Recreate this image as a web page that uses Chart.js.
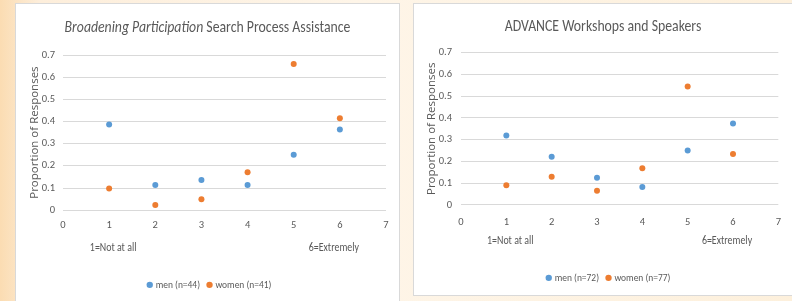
<!DOCTYPE html>
<html>
<head>
<meta charset="utf-8">
<script src="https://cdn.jsdelivr.net/npm/chart.js@4.4.1/dist/chart.umd.min.js"></script>
<style>
  html, body { margin: 0; padding: 0; }
  body {
    width: 792px; height: 301px; overflow: hidden; position: relative;
    background: linear-gradient(90deg, #fbdcb2 0%, #fdeedb 5%, #fef5e8 45%, #fdf0dc 100%);
  }
  .panel { position: absolute; background: #fff; border: 1px solid #d9d9d9; box-sizing: border-box; }
  #p1 { left: 15px; top: 3px; width: 385px; height: 300px; }
  #p2 { left: 413px; top: 3px; width: 382px; height: 293px; }
  canvas { position: absolute; display: block; }
  #c1 { left: 16px; top: 3px; }
  #c2 { left: 414px; top: 4px; }
</style>
</head>
<body>
<div class="panel" id="p1"></div>
<div class="panel" id="p2"></div>
<canvas id="c1" width="383" height="298"></canvas>
<canvas id="c2" width="378" height="291"></canvas>
<script>
// values
const xValues = [1, 2, 3, 4, 5, 6];
const bpMen = [0.386, 0.114, 0.136, 0.114, 0.25, 0.364];
const bpWomen = [0.098, 0.024, 0.049, 0.171, 0.659, 0.415];
const advMen = [0.319, 0.222, 0.125, 0.083, 0.25, 0.375];
const advWomen = [0.091, 0.13, 0.065, 0.169, 0.545, 0.234];
const endLabels = ['1=Not at all', '6=Extremely'];

const BLUE = '#5b9bd5';
const ORANGE = '#ed7d31';
const GREY = '#595959';
const NARROW = "Carlito, 'Liberation Sans Narrow', Lato, sans-serif";
const SQUEEZE = 0.86; // the source text is horizontally condensed

function squeezedText(ctx, text, x, y) {
  ctx.save();
  ctx.translate(x, y);
  ctx.scale(SQUEEZE, 1);
  ctx.fillText(text, 0, 0);
  ctx.restore();
}

// draws the mixed italic title, condensed legend text and the two scale-end notes
const extras = {
  id: 'extras',
  afterDraw(chart, args, opts) {
    const ctx = chart.ctx;
    const tb = chart.titleBlock;
    const tOpts = chart.options.plugins.title;
    const cy = tb.top + tOpts.padding.top + tOpts.font.size * 0.6;
    ctx.save();
    ctx.fillStyle = GREY;
    ctx.textBaseline = 'middle';
    ctx.textAlign = 'left';
    const fonts = opts.parts.map(p => (p.italic ? 'italic ' : '') + tOpts.font.size + 'px ' + NARROW);
    let total = 0;
    const widths = opts.parts.map((p, i) => {
      ctx.font = fonts[i];
      const w = ctx.measureText(p.text).width * SQUEEZE;
      total += w;
      return w;
    });
    let x = chart.width / 2 - total / 2;
    opts.parts.forEach((p, i) => { ctx.font = fonts[i]; squeezedText(ctx, p.text, x, cy); x += widths[i]; });

    // legend text, drawn over the (transparent) library text at its hit boxes
    const lg = chart.legend;
    const lo = lg.options.labels;
    ctx.font = '11px ' + NARROW;
    lg.legendItems.forEach((item, i) => {
      const hb = lg.legendHitBoxes[i];
      squeezedText(ctx, item.text, hb.left + lo.boxWidth + lo.font.size / 2 - 1, hb.top + hb.height / 2);
    });

    const xs = chart.scales.x;
    const y = chart.chartArea.bottom + opts.noteGap;
    ctx.font = '11.5px ' + NARROW;
    ctx.textAlign = 'center';
    squeezedText(ctx, endLabels[0], xs.getPixelForValue(1) + 4, y);
    squeezedText(ctx, endLabels[1], xs.getPixelForValue(6) - 6, y);
    ctx.restore();
  }
};

function makeChart(id, c) {
  const pts = arr => xValues.map((x, i) => ({ x: x, y: arr[i] }));
  return new Chart(document.getElementById(id), {
    type: 'scatter',
    data: {
      datasets: [
        { label: c.menLabel, data: pts(c.men), backgroundColor: BLUE, borderColor: BLUE, pointRadius: 3, borderWidth: 0 },
        { label: c.womenLabel, data: pts(c.women), backgroundColor: ORANGE, borderColor: ORANGE, pointRadius: 3, borderWidth: 0 }
      ]
    },
    options: {
      responsive: false,
      animation: false,
      layout: { padding: { left: c.padLeft, right: 0, top: 0, bottom: c.padBottom } },
      plugins: {
        title: {
          display: true,
          text: c.title.map(p => p.text).join(''),
          color: 'rgba(0,0,0,0)',
          font: { family: NARROW, size: 16, weight: 'normal', lineHeight: 1.2 },
          padding: { top: c.titleTop, bottom: c.titleBottom }
        },
        legend: {
          position: 'bottom',
          labels: {
            usePointStyle: true, pointStyle: 'circle', boxWidth: 4.5, boxHeight: 4.5,
            color: 'rgba(0,0,0,0)', font: { family: NARROW, size: 9.3 }, padding: 7
          }
        },
        tooltip: { enabled: false },
        extras: { parts: c.title, noteGap: c.noteGap }
      },
      scales: {
        x: {
          type: 'linear', min: 0, max: 7,
          ticks: { stepSize: 1, color: GREY, font: { family: NARROW, size: 10.5 }, padding: c.xTickPad },
          grid: { display: false, drawTicks: false },
          border: { display: false },
          afterFit: s => { s.height = c.xHeight; }
        },
        y: {
          min: 0, max: 0.7,
          ticks: { stepSize: 0.1, color: GREY, font: { family: NARROW, size: 10.5 }, padding: c.yTickPad },
          grid: { color: '#d9d9d9', drawTicks: false },
          border: { display: false },
          title: {
            display: true, text: 'Proportion of Responses', color: GREY,
            font: { family: "'Open Sans', sans-serif", size: 11.5 },
            padding: { top: c.yTitlePad, bottom: 0 }
          },
          afterFit: s => { s.width = c.yWidth; }
        },
        // empty strip on the right of the plot, so legend stays centred on the panel
        spacer: {
          type: 'linear', position: 'right', min: 0, max: 1,
          ticks: { display: false }, grid: { display: false, drawTicks: false }, border: { display: false },
          afterFit: s => { s.width = c.rightGap; }
        }
      }
    },
    plugins: [extras]
  });
}

makeChart('c1', {
  title: [{ text: 'Broadening Participation', italic: true }, { text: ' Search Process Assistance', italic: false }],
  men: bpMen, women: bpWomen,
  menLabel: 'men (n=44)', womenLabel: 'women (n=41)',
  padLeft: 4, rightGap: 13, padBottom: 1.5, titleTop: 15.4, titleBottom: 17.4,
  xHeight: 63, yWidth: 43, yTickPad: 8, yTitlePad: 8, xTickPad: 9, noteGap: 38
});

makeChart('c2', {
  title: [{ text: 'ADVANCE Workshops and Speakers', italic: false }],
  men: advMen, women: advWomen,
  menLabel: 'men (n=72)', womenLabel: 'women (n=77)',
  padLeft: 11, rightGap: 4.3, padBottom: 2.5, titleTop: 13, titleBottom: 16.5,
  xHeight: 61.25, yWidth: 36, yTickPad: 9, yTitlePad: 0, xTickPad: 11, noteGap: 36
});
</script>
</body>
</html>
